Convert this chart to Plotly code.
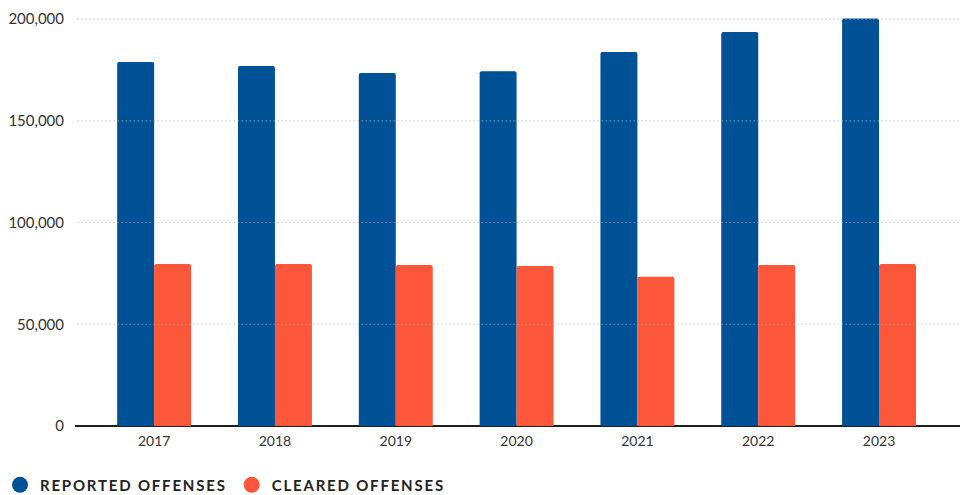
import plotly.graph_objects as go

years = ["2017", "2018", "2019", "2020", "2021", "2022", "2023"]
reported = [178900, 176900, 173500, 174400, 183800, 193600, 200300]
cleared = [79600, 79600, 79100, 78600, 73400, 79100, 79600]
y_ticks = [0, 50000, 100000, 150000, 200000]
y_tick_text = ["0", "50,000", "100,000", "150,000", "200,000"]

BLUE = "#005195"
ORANGE = "#FC573B"
TEXT = "#333333"
FONT = "Lato"

fig = go.Figure()
fig.add_trace(go.Bar(x=years, y=reported, name="REPORTED OFFENSES",
                     marker=dict(color=BLUE, cornerradius=2, line_width=0),
                     showlegend=False))
fig.add_trace(go.Bar(x=years, y=cleared, name="CLEARED OFFENSES",
                     marker=dict(color=ORANGE, cornerradius=2, line_width=0),
                     showlegend=False))

# circular legend keys
for name, col in [("REPORTED OFFENSES", BLUE), ("CLEARED OFFENSES", ORANGE)]:
    fig.add_trace(go.Scatter(
        x=[None], y=[None], mode="markers", name=
        f'<span style="letter-spacing:1.8px">{name}</span>',
        marker=dict(color=col, size=17, symbol="circle"),
        showlegend=True))

# dotted gridlines drawn over the bars
for v in y_ticks[1:]:
    fig.add_shape(type="line", xref="paper", x0=0.003, x1=1, yref="y", y0=v, y1=v,
                  line=dict(color="rgba(175,175,175,0.9)", width=1.2, dash="1px,3px"),
                  layer="above")

fig.update_layout(
    width=968, height=495,
    margin=dict(l=75, r=8, t=17, b=69),
    paper_bgcolor="white", plot_bgcolor="white",
    barmode="group", bargap=0.388, bargroupgap=0,
    font=dict(family=FONT, color=TEXT, size=14),
    legend=dict(orientation="h", xref="container", yref="container",
                x=0.0, y=0.02, xanchor="left", yanchor="middle",
                font=dict(family=FONT, size=15, color="#222222", weight="bold"),
                itemwidth=30, tracegroupgap=0, bgcolor="rgba(0,0,0,0)"),
    xaxis=dict(type="category", range=[-0.655, 6.67], showgrid=False,
               showline=False, ticks="", ticklabelstandoff=5,
               tickfont=dict(size=14, color=TEXT)),
    yaxis=dict(range=[0, 201000], tickvals=y_ticks, ticktext=y_tick_text,
               showgrid=False, zeroline=True, zerolinecolor="#1e1e1e",
               zerolinewidth=2, ticks="", ticklabelstandoff=10,
               tickfont=dict(size=15, color=TEXT)),
)

fig.write_html("out.html")
